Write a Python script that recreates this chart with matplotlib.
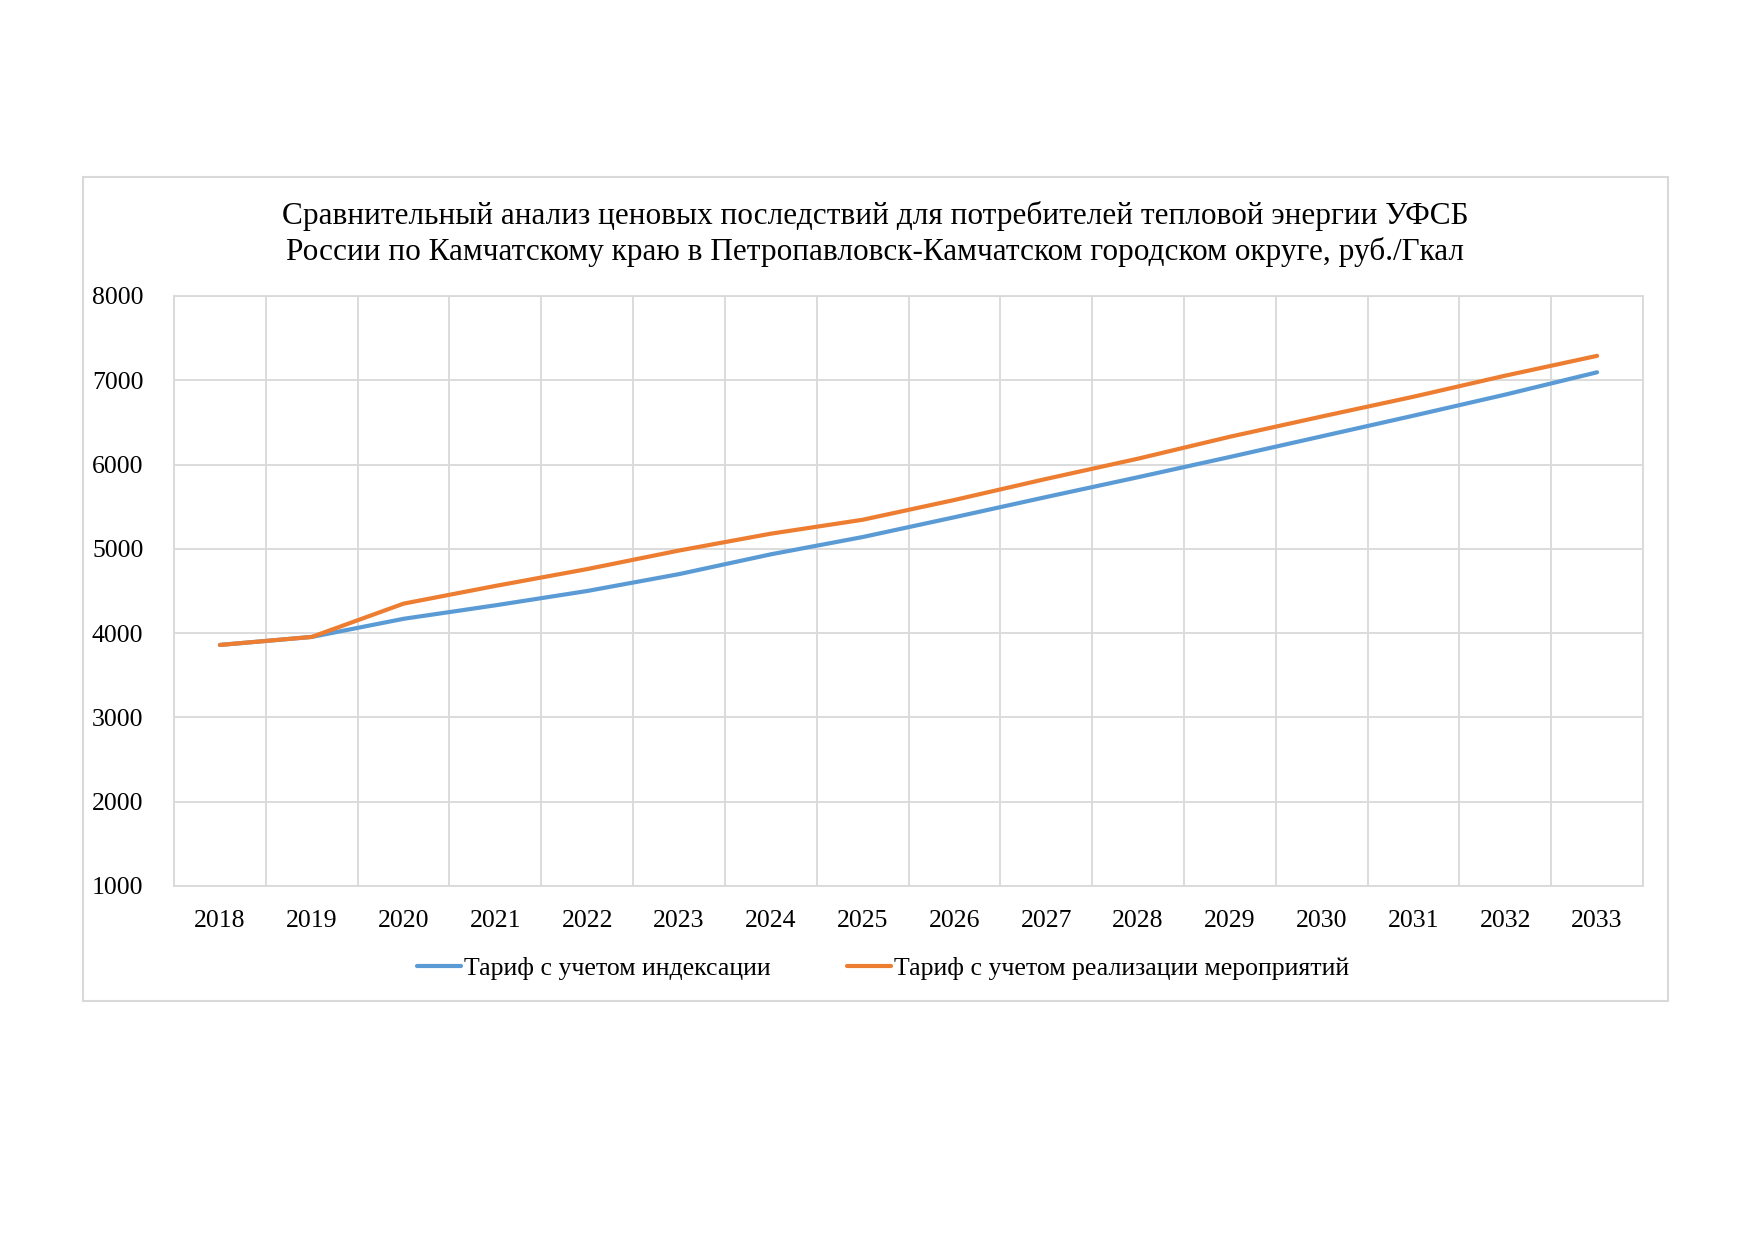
import matplotlib.pyplot as plt
from matplotlib.patches import Rectangle

years = ["2018", "2019", "2020", "2021", "2022", "2023", "2024", "2025",
         "2026", "2027", "2028", "2029", "2030", "2031", "2032", "2033"]
tariff_index = [3860, 3955, 4170, 4330, 4500, 4700, 4935, 5140,
                5375, 5615, 5850, 6090, 6335, 6580, 6830, 7095]
tariff_measures = [3860, 3955, 4350, 4560, 4760, 4980, 5180, 5345,
                   5580, 5830, 6070, 6330, 6570, 6805, 7055, 7290]

title = ("Сравнительный анализ ценовых последствий для потребителей тепловой энергии УФСБ\n"
         "России по Камчатскому краю в Петропавловск-Камчатском городском округе, руб./Гкал")
labels = ["Тариф с учетом индексации", "Тариф с учетом реализации мероприятий"]

plt.rcParams["font.family"] = ["Liberation Serif", "DejaVu Serif"]
grid_col = "#d9d9d9"

fig = plt.figure(figsize=(17.52, 12.39), dpi=100)
ax = fig.add_axes([174/1752, 1-886/1239, (1643-174)/1752, (886-296)/1239])

# outer chart box like the excel chart area
fig.patches.append(Rectangle((83/1752, 1-1001/1239), (1668-83)/1752, (1001-177)/1239,
                             transform=fig.transFigure, fill=False,
                             edgecolor=grid_col, linewidth=1.5))

x = range(len(years))
ax.plot(x, tariff_index, color="#5b9bd5", linewidth=3.0, label=labels[0],
        solid_capstyle="round")
ax.plot(x, tariff_measures, color="#ed7d31", linewidth=3.0, label=labels[1],
        solid_capstyle="round")

ax.set_xlim(-0.5, len(years)-0.5)
ax.set_ylim(1000, 8000)
ax.set_yticks(range(1000, 8001, 1000))
ax.set_xticks(list(x))
ax.set_xticklabels(years)
ax.set_xticks([i-0.5 for i in range(len(years)+1)], minor=True)

ax.grid(True, which="minor", axis="x", color=grid_col, linewidth=1.3)
ax.grid(True, which="major", axis="y", color=grid_col, linewidth=1.3)
ax.set_axisbelow(True)
for s in ax.spines.values():
    s.set_color(grid_col)
    s.set_linewidth(1.3)
ax.tick_params(which="both", length=0)
ax.tick_params(axis="y", labelsize=18.5, pad=22)
ax.tick_params(axis="x", labelsize=18.5, pad=17)

fig.text(875/1752, 1-234/1239, title, ha="center", va="center", fontsize=22.5,
         linespacing=1.3)

fig.legend(loc="center", bbox_to_anchor=(883/1752, 1-968/1239), ncol=2,
           frameon=False, fontsize=18.5, handlelength=1.7, columnspacing=3.0,
           handletextpad=0.1)

fig.savefig("out.png", dpi=100)
